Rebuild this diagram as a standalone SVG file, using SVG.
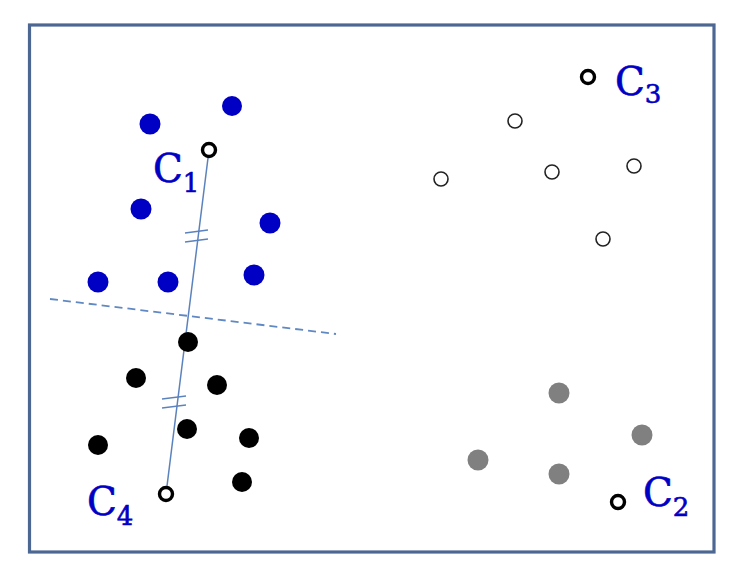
<svg xmlns="http://www.w3.org/2000/svg" width="740" height="580" viewBox="0 0 740 580">
<style>
.frame{fill:#fff;stroke:#4d6793;stroke-width:3.2}
.blue{fill:#0000c4}
.black{fill:#000}
.gray{fill:#808080}
.open{fill:#fff;stroke:#222;stroke-width:1.6}
.cent{fill:#fff;stroke:#000;stroke-width:3.4}
.lbl{font-family:"DejaVu Serif","Liberation Serif",serif;fill:#0000c4;stroke:#0000c4;stroke-width:0.6;font-size:39px}
.sub{font-size:26px}
.link{stroke:#5b82bd;stroke-width:1.5;fill:none}
.dash{stroke:#6088c2;stroke-width:1.8;fill:none;stroke-dasharray:8 5}
</style>
<rect class="frame" x="29.5" y="25" width="684.5" height="527"/>
<g id="connectors">
<line class="dash" x1="50" y1="299" x2="336" y2="334"/>
<line class="link" x1="209" y1="150" x2="166" y2="494"/>
<line class="link" x1="185" y1="233" x2="208" y2="230"/>
<line class="link" x1="185" y1="242" x2="208" y2="239"/>
<line class="link" x1="162" y1="399" x2="186" y2="396"/>
<line class="link" x1="162" y1="408" x2="186" y2="405"/>
</g>
<g id="cluster1">
<circle class="blue" cx="150" cy="124" r="10.5"/>
<circle class="blue" cx="232" cy="106" r="10"/>
<circle class="blue" cx="141" cy="209" r="10.5"/>
<circle class="blue" cx="270" cy="223" r="10.5"/>
<circle class="blue" cx="98" cy="282" r="10.5"/>
<circle class="blue" cx="168" cy="282" r="10.5"/>
<circle class="blue" cx="254" cy="275" r="10.5"/>
</g>
<g id="cluster4">
<circle class="black" cx="188" cy="342" r="10"/>
<circle class="black" cx="136" cy="378" r="10"/>
<circle class="black" cx="217" cy="385" r="10"/>
<circle class="black" cx="187" cy="429" r="10"/>
<circle class="black" cx="98" cy="445" r="10"/>
<circle class="black" cx="249" cy="438" r="10"/>
<circle class="black" cx="242" cy="482" r="10"/>
</g>
<g id="cluster3">
<circle class="open" cx="515" cy="121" r="7"/>
<circle class="open" cx="441" cy="179" r="7"/>
<circle class="open" cx="552" cy="172" r="7"/>
<circle class="open" cx="634" cy="166" r="7"/>
<circle class="open" cx="603" cy="239" r="7"/>
</g>
<g id="cluster2">
<circle class="gray" cx="559" cy="393" r="10.5"/>
<circle class="gray" cx="642" cy="435" r="10.5"/>
<circle class="gray" cx="478" cy="460" r="10.5"/>
<circle class="gray" cx="559" cy="474" r="10.5"/>
</g>
<g id="C1">
<circle class="cent" cx="209" cy="150" r="6.5"/>
<text class="lbl" x="153" y="182">C<tspan class="sub" dy="10">1</tspan></text>
</g>
<g id="C2">
<circle class="cent" cx="618" cy="502" r="6.5"/>
<text class="lbl" x="643" y="506">C<tspan class="sub" dy="10">2</tspan></text>
</g>
<g id="C3">
<circle class="cent" cx="588" cy="77" r="6.5"/>
<text class="lbl" x="615" y="95">C<tspan class="sub" dy="8">3</tspan></text>
</g>
<g id="C4">
<circle class="cent" cx="166" cy="494" r="6.5"/>
<text class="lbl" x="87" y="515">C<tspan class="sub" dy="10">4</tspan></text>
</g>
</svg>
